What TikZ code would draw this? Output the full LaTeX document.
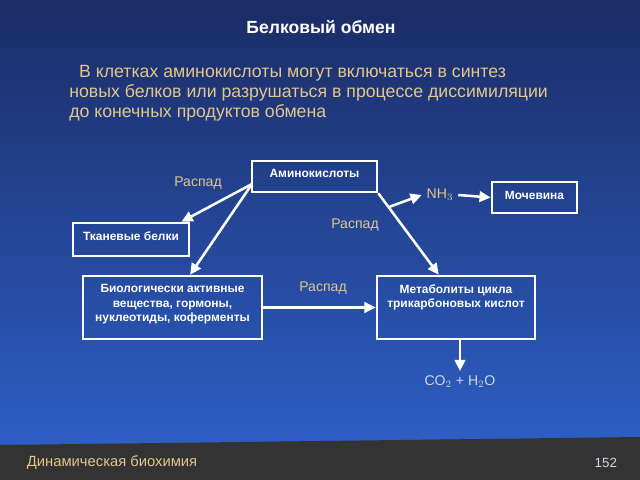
\documentclass[tikz,border=0pt]{standalone}
\usepackage{fontspec}
\setmainfont{Liberation Sans}
\usetikzlibrary{arrows.meta,calc}
\definecolor{bgtop}{HTML}{1B2C66}
\definecolor{bgbot}{HTML}{2D5EC4}
\definecolor{footbar}{HTML}{333333}
\definecolor{tan}{HTML}{E2C68C}
\definecolor{pale}{HTML}{D2D6DE}

\begin{document}
\begin{tikzpicture}[
            x=0.025cm, y=-0.025cm,
            box/.style={draw=white, line width=1.8pt, inner sep=0pt},
            boxtext/.style={text=white, font=\fontsize{8.5}{10.3}\selectfont\bfseries, align=center, anchor=north},
            lbl/.style={text=tan, font=\fontsize{10}{12}\selectfont},
            arr/.style={draw=white, line width=1.8pt, -{Triangle[length=8pt, width=7.5pt]}},
        ]
            \useasboundingbox (0, 0) rectangle (640, 480);
            \shade[top color=bgtop, bottom color=bgbot] (0, 0) rectangle (640, 445);
            \fill[footbar] (0, 445) -- (640, 437) -- (640, 480) -- (0, 480) -- cycle;
            \node[text=white, font=\fontsize{12.5}{15}\selectfont\bfseries] (title) at (321, 27) {Белковый обмен};
            \node[text=tan, font=\fontsize{12.6}{14.2}\selectfont, align=left, anchor=north west, inner sep=0pt] (intro) at (69, 65)
                {\hspace*{7pt}В клетках аминокислоты могут включаться в синтез\\новых белков или разрушаться в процессе диссимиляции\\до конечных продуктов обмена};
            \node[box, minimum width=125*0.025cm, minimum height=31*0.025cm] (amino) at (314.5, 176.5) {};
            \node[boxtext] (aminotext) at (314.5, 164) {Аминокислоты};
            \node[box, minimum width=116*0.025cm, minimum height=33*0.025cm] (tkan) at (131, 239.5) {};
            \node[boxtext] (tkantext) at (131, 227) {Тканевые белки};
            \node[box, minimum width=179*0.025cm, minimum height=63*0.025cm] (bio) at (172.5, 307.5) {};
            \node[boxtext] (biotext) at (172.5, 279.5) {Биологически активные\\вещества, гормоны,\\нуклеотиды, коферменты};
            \node[box, minimum width=158*0.025cm, minimum height=63*0.025cm] (met) at (456, 307.5) {};
            \node[boxtext] (mettext) at (456, 279.5) {Метаболиты цикла\\трикарбоновых кислот};
            \node[box, minimum width=85*0.025cm, minimum height=31*0.025cm] (moch) at (534.5, 197.5) {};
            \node[boxtext] (mochtext) at (534.5, 186) {Мочевина};
            \node[text=tan, font=\fontsize{10}{12}\selectfont] (nh3) at (440, 195) {NH$_3$};
            \node[text=pale, font=\fontsize{10}{12}\selectfont] (co2) at (460, 382) {CO$_2$ + H$_2$O};
            \node[lbl] (rasp1) at (198, 183) {Распад};
            \node[lbl] (rasp2) at (355, 225) {Распад};
            \node[lbl] (rasp3) at (323, 288) {Распад};
            \node[text=tan, font=\fontsize{10.5}{12}\selectfont, anchor=west] (foot) at (22, 463) {Динамическая биохимия};
            \node[text=pale, font=\fontsize{9.5}{12}\selectfont, anchor=east] (page) at (622, 463) {152};
            \coordinate (aminol) at (252, 184);
            \coordinate (mettop) at ([xshift=-0.43cm]met.north);
            \coordinate (branch) at ($(amino.south east)!0.17!(mettop)$);
            \draw[arr] (aminol) -- ([xshift=-0.22cm]tkan.north east);
            \draw[arr] (aminol) -- ([xshift=0.44cm]bio.north);
            \draw[arr] (amino.south east) -- (mettop);
            \draw[arr] (branch) -- (nh3.west);
            \draw[arr] (nh3.east) -- (moch.west);
            \draw[arr] (bio.east) -- (met.west);
            \draw[arr] (co2.north |- met.south) -- (co2.north);
        \end{tikzpicture}
\end{document}
